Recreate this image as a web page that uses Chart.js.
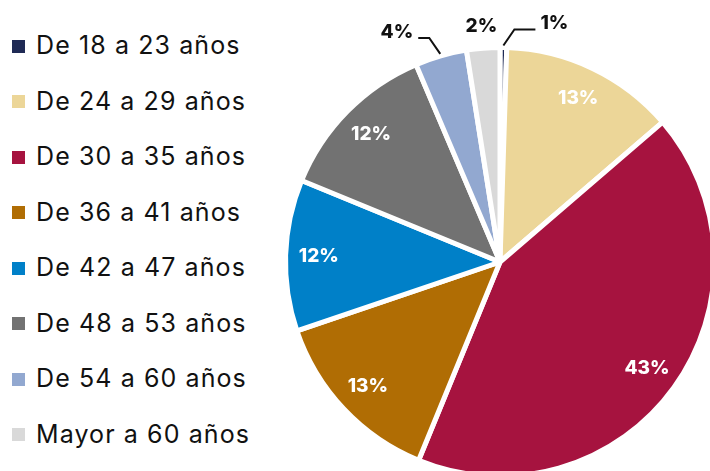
<!DOCTYPE html>
<html>
<head>
<meta charset="utf-8">
<script src="https://cdn.jsdelivr.net/npm/chart.js@4"></script>
<style>
  html, body { margin: 0; padding: 0; width: 710px; height: 471px; overflow: hidden; background: #fff; }
  #legend { position: absolute; left: 12px; top: 0; font-family: Inter, "Noto Sans", sans-serif; font-size: 25px; letter-spacing: 1.1px; color: #111; }
  .item { position: absolute; left: 0; height: 30px; display: flex; align-items: center; white-space: nowrap; }
  .box { width: 13px; height: 13px; margin-right: 11px; margin-top: 2px; }
  #wrap { position: absolute; left: 240px; top: 2px; }
</style>
</head>
<body>
<div id="legend"></div>
<div id="wrap"><canvas id="pie" width="520" height="520"></canvas></div>
<script>
// age groups and their share of the total
const ageGroups = ["De 18 a 23 años", "De 24 a 29 años", "De 30 a 35 años", "De 36 a 41 años",
  "De 42 a 47 años", "De 48 a 53 años", "De 54 a 60 años", "Mayor a 60 años"];
const shares = [0.5, 13.2, 42.5, 13.6, 11.4, 12.4, 3.9, 2.5];
// percentages as printed on the chart
const shownPct = [1, 13, 43, 13, 12, 12, 4, 2];
const colors = ["#1f2a55", "#ecd698", "#a6133f", "#b06d04", "#0080c8", "#727272", "#92a8d0", "#d9d9d9"];
// where each label goes: inside the slice, just outside, or outside with a leader line
const labelPlace = ["leader", "in", "in", "in", "in", "in", "leader", "out"];
// horizontal run of the leader lines (px), by slice index
const leaderRun = { 0: 21, 6: 11 };

// legend (html so it sits at the left like the original)
const legend = document.getElementById("legend");
ageGroups.forEach(function (name, i) {
  const item = document.createElement("div");
  item.className = "item";
  item.style.top = (45 + i * 55.5 - 15) + "px";
  item.innerHTML = '<span class="box" style="background:' + colors[i] + '"></span>' + name;
  legend.appendChild(item);
});

const pieLabels = {
  id: "pieLabels",
  afterDatasetsDraw(chart) {
    const ctx = chart.ctx;
    const arcs = chart.getDatasetMeta(0).data;
    ctx.save();
    ctx.font = "800 19px Inter";
    ctx.textBaseline = "middle";
    arcs.forEach(function (arc, i) {
      const p = arc.getProps(["x", "y", "startAngle", "endAngle", "outerRadius"], true);
      const mid = (p.startAngle + p.endAngle) / 2;
      const text = shownPct[i] + "%";
      if (labelPlace[i] === "in") {
        const r = p.outerRadius * 0.845;
        ctx.fillStyle = "#fff";
        ctx.textAlign = "center";
        ctx.fillText(text, p.x + Math.cos(mid) * r, p.y + Math.sin(mid) * r);
      } else if (labelPlace[i] === "out") {
        const r = p.outerRadius + 22;
        ctx.fillStyle = "#111";
        ctx.textAlign = "center";
        ctx.fillText(text, p.x + Math.cos(mid) * r, p.y + Math.sin(mid) * r);
      } else {
        const side = Math.cos(mid) >= 0 ? 1 : -1;
        const r0 = p.outerRadius + 2;
        const x0 = p.x + Math.cos(mid) * r0, y0 = p.y + Math.sin(mid) * r0;
        const x1 = x0 + side * 11, y1 = y0 - 16;
        const x2 = x1 + side * leaderRun[i];
        ctx.strokeStyle = "#111";
        ctx.lineWidth = 2;
        ctx.beginPath();
        ctx.moveTo(x0, y0);
        ctx.lineTo(x1, y1);
        ctx.lineTo(x2, y1);
        ctx.stroke();
        ctx.fillStyle = "#111";
        ctx.textAlign = side > 0 ? "left" : "right";
        ctx.fillText(text, x2 + side * 5, y1 - 6);
      }
    });
    ctx.restore();
  }
};

new Chart(document.getElementById("pie"), {
  type: "pie",
  data: {
    labels: ageGroups,
    datasets: [{
      data: shares,
      backgroundColor: colors,
      borderColor: "#fff",
      borderWidth: 5
    }]
  },
  options: {
    responsive: false,
    animation: false,
    events: [],
    layout: { padding: 43 },
    plugins: {
      legend: { display: false },
      tooltip: { enabled: false }
    }
  },
  plugins: [pieLabels]
});
</script>
</body>
</html>
